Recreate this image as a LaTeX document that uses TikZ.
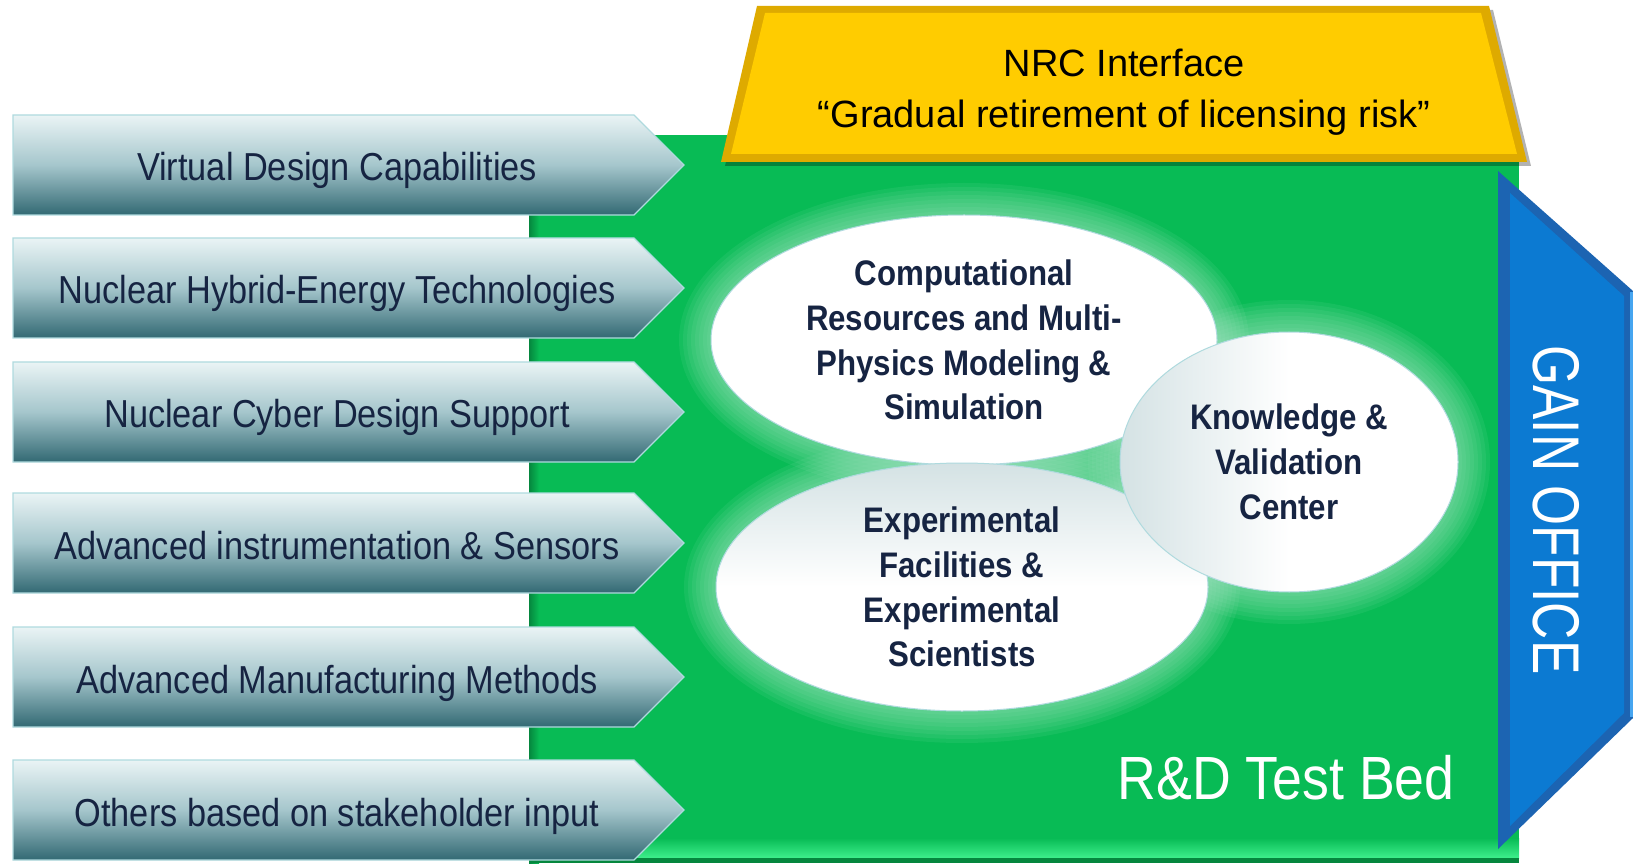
\documentclass[tikz,border=0pt]{standalone}
\usepackage{fontspec}
\setmainfont{Liberation Sans}[FakeStretch=0.88]
\newfontfamily\plainfont{Liberation Sans}
\newfontfamily\narrowfont{Liberation Sans}[FakeStretch=0.78]
\usepackage{xcolor}
\definecolor{bed}{RGB}{8,187,85}
\definecolor{bedlight}{RGB}{62,240,140}
\definecolor{beddark}{RGB}{5,135,62}
\definecolor{halo}{RGB}{170,232,200}
\definecolor{nrc}{RGB}{255,204,0}
\definecolor{nrcdark}{RGB}{222,170,0}
\definecolor{gain}{RGB}{12,122,210}
\definecolor{gaindark}{RGB}{28,100,178}
\definecolor{gainlight}{RGB}{70,165,240}
\definecolor{chevtop}{RGB}{234,244,245}
\definecolor{chevmid}{RGB}{165,198,204}
\definecolor{chevbot}{RGB}{50,105,115}
\definecolor{chevedge}{RGB}{175,218,222}
\definecolor{shadowed}{RGB}{212,226,228}
\definecolor{ink}{RGB}{22,36,66}
\usetikzlibrary{shapes.geometric}

\begin{document}
\begin{tikzpicture}[x=1pt,y=-1pt,
    chevbox/.style={draw=chevedge,line width=1.2pt,top color=chevtop,bottom color=chevbot,middle color=chevmid},
    chevtext/.style={text=ink,inner sep=0pt,anchor=base,font=\fontsize{39}{44}\selectfont},
    bubble/.style={ellipse,fill=white,draw=chevedge,line width=1pt,text=ink,align=center,inner sep=0pt,
        font=\bfseries\fontsize{35.5}{44.7}\selectfont},
    nrctext/.style={text=black,inner sep=0pt,anchor=base,font=\plainfont\fontsize{38}{44}\selectfont},
    bedtext/.style={text=white,inner sep=0pt,anchor=base,font=\fontsize{61}{70}\selectfont},
    gaintext/.style={text=white,inner sep=0pt,font=\narrowfont\fontsize{66}{70}\selectfont}]
    \useasboundingbox (0,0) rectangle (1633,866);

    % test bed
    \fill[bed] (529,135) rectangle (1519,863);
    \shade[left color=beddark,right color=bed] (529,135) rectangle (539,863);
    \shade[top color=bed,bottom color=bedlight] (529,838) rectangle (1519,858);
    \fill[beddark] (529,858) rectangle (1519,863);

    % nrc banner
    \fill[black,opacity=.3] (761,10) -- (1493,10) -- (1531,166) -- (725,166) -- cycle;
    \fill[nrcdark] (757,6) -- (1489,6) -- (1527,162) -- (721,162) -- cycle;
    \fill[nrc] (765,13) -- (1481,13) -- (1517,154) -- (731,154) -- cycle;
    \node[nrctext] (nrc) at (1124,77) {NRC Interface};
    \node[nrctext] (nrcrisk) at (1124,128) {“Gradual retirement of licensing risk”};

    % gain office
    \fill[gaindark] (1498,171) -- (1633,291) -- (1633,718) -- (1498,849) -- cycle;
    \fill[gain] (1510,193) -- (1624,296) -- (1624,713) -- (1510,826) -- cycle;
    \draw[gainlight,line width=3pt] (1631,292) -- (1631,717);
    \node[gaintext,rotate=-90] (gain) at (1556,510) {GAIN OFFICE};

    % capabilities
    \foreach \yc/\nm/\txt in {165/vdc/Virtual Design Capabilities,
                              288/nhet/Nuclear Hybrid-Energy Technologies,
                              412/ncds/Nuclear Cyber Design Support,
                              543/ais/Advanced instrumentation \& Sensors,
                              677/amm/Advanced Manufacturing Methods,
                              810/obs/Others based on stakeholder input}{
        \draw[chevbox] (13,{\yc-50}) -- (634,{\yc-50}) -- (684,\yc) -- (634,{\yc+50}) -- (13,{\yc+50}) -- cycle;
        \node[chevtext] (\nm) at (337,{\yc+16}) {\txt};
    }

    % halos
    \coordinate (compc) at (964,340);
    \coordinate (expc) at (962,587);
    \coordinate (knowc) at (1289,462);
    \foreach \r in {32,28,...,4}{
        \fill[halo,opacity=.09] (compc) ellipse [x radius=253+\r,y radius=125+\r];
        \fill[halo,opacity=.09] (expc) ellipse [x radius=246+\r,y radius=124+\r];
        \fill[halo,opacity=.09] (knowc) ellipse [x radius=169+\r,y radius=130+\r];
    }

    % centres
    \node[bubble,minimum width=506,minimum height=250] (comp) at (compc)
        {Computational\\Resources and Multi-\\Physics Modeling \&\\Simulation};
    \node[bubble,minimum width=492,minimum height=248,top color=shadowed,bottom color=white,middle color=white] (exp) at (expc)
        {Experimental\\Facilities \&\\Experimental\\Scientists};
    \node[bubble,minimum width=338,minimum height=260,left color=shadowed,right color=white,middle color=white] (know) at (knowc)
        {Knowledge \&\\Validation\\Center};

    \node[bedtext] (bed) at (1286,799) {R\&D Test Bed};
\end{tikzpicture}
\end{document}
